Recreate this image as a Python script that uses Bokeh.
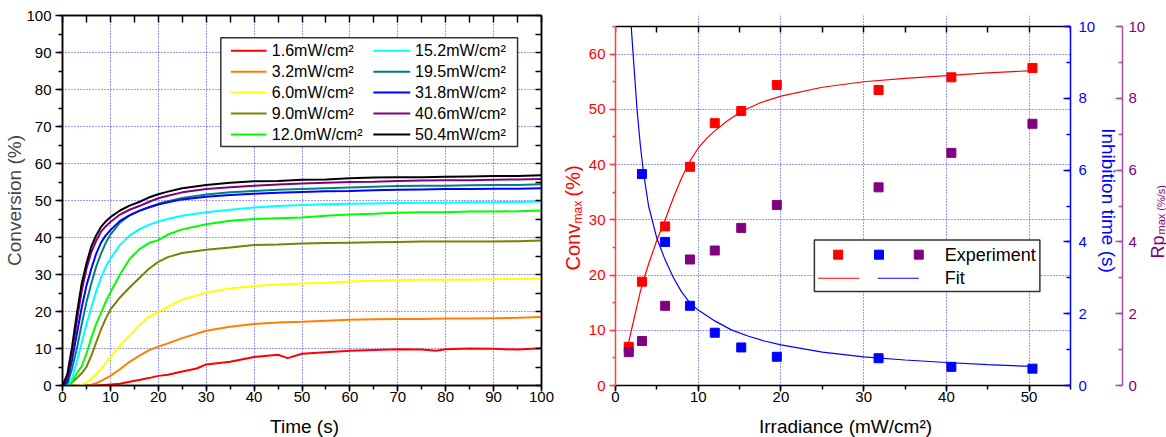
import math
from bokeh.plotting import figure
from bokeh.models import Range1d, LinearAxis, SingleIntervalTicker, FixedTicker, Label
from bokeh.layouts import row, column
from bokeh.embed import file_html
from bokeh.resources import INLINE

FONT = "Liberation Sans"

# ---------------- Left panel data: conversion vs time ----------------
TIME = [0, 1, 2, 3, 4, 5, 6, 7, 8, 9, 10, 12, 14, 16, 18, 20, 22, 25, 30, 35, 40,
        45, 50, 55, 60, 65, 70, 75, 80, 85, 90, 95, 100]
TIME_RED = [0, 5, 8, 10, 12, 14, 16, 18, 20, 22, 25, 28, 30, 35, 40, 45, 47, 50, 55,
            60, 65, 70, 75, 78, 80, 85, 90, 95, 100]
CONV_1_6 = [0, 0, 0.1, 0.3, 0.5, 1.0, 1.5, 2.0, 2.6, 2.9, 3.8, 4.6, 5.7, 6.4, 7.7, 8.3,
            7.4, 8.6, 9.0, 9.4, 9.6, 9.8, 9.7, 9.4, 9.8, 10.0, 9.9, 9.7, 10.1]
CONV_3_2 = [0, 0, 0, 0, 0, 0, 0.2, 0.6, 1.2, 1.9, 2.6, 4.4, 6.4, 8.0, 9.5, 10.5, 11.4,
            12.8, 14.8, 15.9, 16.6, 17.0, 17.2, 17.5, 17.8, 17.9, 18.0, 18.0, 18.1, 18.1,
            18.2, 18.3, 18.5]
CONV_6_0 = [0, 0, 0, 0, 0.2, 0.8, 1.8, 3.0, 4.5, 6.0, 7.6, 10.8, 13.5, 16.2, 18.5, 19.8,
            21.3, 23.2, 25.1, 26.2, 26.9, 27.3, 27.6, 27.8, 28.1, 28.3, 28.5, 28.6, 28.6,
            28.6, 28.7, 28.8, 28.9]
CONV_9_0 = [0, 0, 0.8, 2.0, 3.3, 5.0, 8.0, 11.5, 15.0, 18.0, 20.5, 23.8, 26.5, 29.0, 31.5,
            33.4, 34.7, 35.8, 36.7, 37.3, 38.0, 38.1, 38.4, 38.5, 38.6, 38.7, 38.8, 38.9,
            38.9, 38.9, 38.9, 39.0, 39.2]
CONV_12_0 = [0, 0, 1.0, 3.3, 5.2, 8.6, 12.8, 16.5, 19.5, 22.5, 25.2, 30.0, 34.2, 36.8,
             38.5, 39.3, 40.8, 42.2, 43.6, 44.5, 45.0, 45.2, 45.4, 45.9, 46.2, 46.4, 46.7,
             46.8, 46.8, 47.0, 47.0, 47.1, 47.3]
CONV_15_2 = [0, 0, 2.0, 6.5, 11.5, 16.5, 21.0, 25.3, 29.0, 32.0, 34.3, 38.0, 40.5, 42.2,
             43.4, 44.3, 45.0, 45.9, 46.8, 47.5, 48.1, 48.5, 48.8, 49.0, 49.1, 49.2, 49.3,
             49.4, 49.4, 49.5, 49.5, 49.6, 49.7]
CONV_19_5 = [0, 0.5, 4.5, 10.0, 16.5, 22.5, 27.5, 32.0, 35.5, 38.5, 40.8, 44.0, 46.0, 47.2,
             48.2, 49.1, 49.8, 50.7, 51.6, 52.2, 52.6, 52.9, 53.1, 53.3, 53.5, 53.7, 53.9,
             54.0, 54.0, 54.1, 54.2, 54.2, 54.4]
CONV_31_8 = [0, 1.0, 7.0, 14.0, 21.0, 27.0, 31.5, 35.5, 38.5, 40.5, 42.0, 44.5, 46.0, 47.2,
             48.1, 48.9, 49.5, 50.3, 51.0, 51.5, 51.8, 52.1, 52.3, 52.5, 52.6, 52.8, 52.9,
             53.0, 53.1, 53.1, 53.2, 53.2, 53.3]
CONV_40_6 = [0, 2.0, 9.0, 17.5, 25.5, 31.5, 36.0, 39.0, 41.5, 43.0, 44.2, 46.2, 47.5, 48.5,
             49.6, 50.6, 51.3, 52.2, 53.1, 53.6, 54.0, 54.3, 54.6, 54.8, 55.0, 55.1, 55.3,
             55.4, 55.5, 55.5, 55.6, 55.7, 55.8]
CONV_50_4 = [0, 3.0, 10.5, 19.5, 27.5, 33.0, 37.5, 40.5, 42.8, 44.3, 45.5, 47.3, 48.6, 49.6,
             50.8, 51.7, 52.4, 53.3, 54.2, 54.8, 55.2, 55.3, 55.6, 55.7, 56.0, 56.2, 56.3,
             56.3, 56.4, 56.5, 56.6, 56.6, 56.8]

SERIES_LABELS = ["1.6mW/cm²", "3.2mW/cm²", "6.0mW/cm²", "9.0mW/cm²", "12.0mW/cm²",
                 "15.2mW/cm²", "19.5mW/cm²", "31.8mW/cm²", "40.6mW/cm²", "50.4mW/cm²"]
SERIES_COLORS = ["#FF0000", "#FF8000", "#FFFF00", "#808000", "#00FF00",
                 "#00FFFF", "#008080", "#0000FF", "#800080", "#000000"]
SERIES_VALUES = [CONV_1_6, CONV_3_2, CONV_6_0, CONV_9_0, CONV_12_0,
                 CONV_15_2, CONV_19_5, CONV_31_8, CONV_40_6, CONV_50_4]

# ---------------- Right panel data ----------------
IRRADIANCE = [1.6, 3.2, 6.0, 9.0, 12.0, 15.2, 19.5, 31.8, 40.6, 50.4]
CONV_MAX = [7.0, 18.8, 28.8, 39.6, 47.5, 49.7, 54.4, 53.5, 55.8, 57.5]
IRR_INHIB = [3.2, 6.0, 9.0, 12.0, 15.2, 19.5, 31.8, 40.6, 50.4]
INHIB_TIME = [5.89, 4.0, 2.22, 1.47, 1.06, 0.80, 0.76, 0.52, 0.47]
RP_MAX = [0.93, 1.24, 2.22, 3.51, 3.76, 4.39, 5.03, 5.52, 6.48, 7.29]

FIT_CONV_X = [1.6, 2.0, 2.5, 3.0, 3.5, 4.0, 5.0, 6.0, 7.0, 8.0, 9.0, 10.0, 11.0, 12.0,
              13.5, 15.2, 17.5, 20.0, 25.0, 30.0, 35.0, 40.0, 45.0, 50.4]
FIT_CONV_Y = [7.9, 10.5, 13.8, 17.0, 19.6, 22.0, 26.3, 30.0, 34.0, 37.6, 40.6, 43.0,
              44.7, 46.1, 47.9, 49.6, 51.2, 52.4, 54.0, 55.0, 55.6, 56.1, 56.6, 57.0]
FIT_INHIB_X = [1.9, 2.2, 2.6, 3.0, 3.4, 4.0, 5.0, 6.0, 7.0, 8.0, 9.0, 10.0, 12.0, 14.0,
               16.0, 18.0, 20.0, 25.0, 30.0, 35.0, 40.0, 45.0, 50.4]
FIT_INHIB_Y = [10.0, 9.0, 7.7, 6.7, 5.9, 5.0, 4.1, 3.5, 3.0, 2.6, 2.3, 2.1, 1.8, 1.55,
               1.38, 1.24, 1.13, 0.93, 0.80, 0.71, 0.64, 0.58, 0.53]

# axis limits
CONV_AX_MAX = 65
SEC_AX_MAX = 10
IRR_AX_MAX = 55

GRID_COLOR = "#0000FF"
ROW_H = 409
BORDER_TOP, BORDER_BOTTOM = 15, 24
# the right panel's plotting area starts 11 px lower than the left one's
PAD_PX = 11
FRAME_PX = ROW_H - BORDER_TOP - BORDER_BOTTOM
RED_TOP = CONV_AX_MAX + PAD_PX * CONV_AX_MAX / (FRAME_PX - PAD_PX)
SEC_TOP = SEC_AX_MAX + PAD_PX * SEC_AX_MAX / (FRAME_PX - PAD_PX)


def style_axis(ax, color="black", tick_in=0, tick_out=0, minor_in=0, minor_out=0,
               label_color=None, standoff=4, size="15px"):
    ax.axis_line_color = color
    ax.axis_line_width = 1.5
    ax.major_tick_line_color = color
    ax.minor_tick_line_color = color
    ax.major_tick_line_width = 1.5
    ax.minor_tick_line_width = 1.5
    ax.major_tick_in = tick_in
    ax.major_tick_out = tick_out
    ax.minor_tick_in = minor_in
    ax.minor_tick_out = minor_out
    ax.major_label_text_font = FONT
    ax.major_label_text_color = label_color or color
    ax.major_label_text_font_size = size
    ax.major_label_standoff = standoff
    ax.axis_label_text_font = FONT
    ax.axis_label_text_font_style = "normal"


def inner_ticks(p, side, lo, hi, step, length, fixed=None):
    """Label-free tick marks on the frame edge, pointing inwards."""
    ticks = [v / 2 for v in range(2 * lo, 2 * hi + 1, step)]
    ax = LinearAxis(ticker=FixedTicker(ticks=[], minor_ticks=ticks))
    if fixed is not None:
        ax.fixed_location = fixed
    style_axis(ax, minor_in=length, standoff=0)
    p.add_layout(ax, side)
    return ax


def side_strip(w):
    """Narrow text-only panel whose y coordinate equals (ROW_H - page y)."""
    s = figure(width=w, height=ROW_H, x_range=Range1d(0, w),
               y_range=Range1d(BORDER_BOTTOM, ROW_H - BORDER_TOP),
               output_backend="svg", toolbar_location=None, x_axis_type=None,
               y_axis_type=None, min_border_left=0, min_border_right=0,
               min_border_top=BORDER_TOP, min_border_bottom=BORDER_BOTTOM)
    s.outline_line_color = None
    s.background_fill_color = "white"
    s.border_fill_color = "white"
    return s


def style_grid(p, xt, yt):
    for g in (p.xgrid[0], p.ygrid[0]):
        g.grid_line_color = GRID_COLOR
        g.grid_line_dash = "1 2"
        g.grid_line_width = 1
        g.grid_line_alpha = 0.8
    p.xgrid[0].ticker = xt
    p.ygrid[0].ticker = yt


# ======================= Left figure =======================
p1 = figure(width=563, height=ROW_H, x_range=Range1d(0, 100), y_range=Range1d(0, 100),
            output_backend="svg", toolbar_location=None,
            min_border_left=62, min_border_right=22, min_border_top=BORDER_TOP,
            min_border_bottom=BORDER_BOTTOM)
p1.outline_line_color = "black"
p1.outline_line_width = 1.5
p1.background_fill_color = "white"
p1.border_fill_color = "white"

xt1 = SingleIntervalTicker(interval=10, num_minor_ticks=2)
yt1 = SingleIntervalTicker(interval=10, num_minor_ticks=2)
p1.xaxis[0].ticker = xt1
p1.yaxis[0].ticker = yt1
style_axis(p1.xaxis[0], tick_out=6, minor_out=4, standoff=0)
style_axis(p1.yaxis[0], tick_out=7, minor_out=4, standoff=4)
p1.yaxis[0].axis_label = "Conversion (%)"
p1.yaxis[0].axis_label_text_font_size = "19px"
p1.yaxis[0].axis_label_standoff = -2
inner_ticks(p1, "above", 0, 100, 10, 7)
inner_ticks(p1, "right", 0, 100, 10, 6)
style_grid(p1, xt1, yt1)

for lab, col, vals in zip(SERIES_LABELS, SERIES_COLORS, SERIES_VALUES):
    xs = TIME_RED if vals is CONV_1_6 else TIME
    p1.line(xs, vals, line_color=col, line_width=2)

# legend (two columns) inside a white framed box
p1.quad(left=[33.05], right=[95.0], top=[93.97], bottom=[64.57], fill_color="white",
        line_color="#333333", line_width=1.5)
ROW_Y0, ROW_STEP = 90.5, 5.67
for i, (lab, col) in enumerate(zip(SERIES_LABELS, SERIES_COLORS)):
    c, r = divmod(i, 5)
    yy = ROW_Y0 - r * ROW_STEP
    x0, x1, xt = (35.15, 42.6, 43.7) if c == 0 else (64.9, 72.6, 73.6)
    p1.segment(x0=[x0], y0=[yy], x1=[x1], y1=[yy], line_color=col, line_width=2)
    p1.add_layout(Label(x=xt, y=yy, text=lab, text_font=FONT, text_font_size="16px",
                        text_baseline="middle", text_color="black"))

# ======================= Right figure =======================
p2 = figure(width=565, height=ROW_H, x_range=Range1d(0, IRR_AX_MAX),
            y_range=Range1d(0, RED_TOP), output_backend="svg", toolbar_location=None,
            min_border_left=32, min_border_right=76, min_border_top=BORDER_TOP,
            min_border_bottom=BORDER_BOTTOM)
p2.outline_line_color = None
p2.background_fill_color = "white"
p2.border_fill_color = "white"
p2.extra_y_ranges = {"inh": Range1d(0, SEC_TOP), "rp": Range1d(0, SEC_TOP)}

xt2 = SingleIntervalTicker(interval=10, num_minor_ticks=2)
yt2 = SingleIntervalTicker(interval=10, num_minor_ticks=2)
p2.xaxis[0].ticker = xt2
p2.yaxis[0].ticker = yt2
style_axis(p2.xaxis[0], tick_out=6, minor_out=4, standoff=0)
style_axis(p2.yaxis[0], color="#FF4040", label_color="#FF0000", tick_out=6, minor_out=3,
           standoff=4)
p2.yaxis[0].bounds = (0, CONV_AX_MAX)
inner_ticks(p2, "above", 0, IRR_AX_MAX, 10, 6, fixed=CONV_AX_MAX)

blue_ax = LinearAxis(y_range_name="inh", bounds=(0, SEC_AX_MAX),
                     ticker=SingleIntervalTicker(interval=2, num_minor_ticks=2))
style_axis(blue_ax, color="#0000FF", tick_in=7, minor_in=4, standoff=8)
blue_ax.axis_label = "Inhibition time (s)"
blue_ax.axis_label_text_color = "#0000FF"
blue_ax.axis_label_text_font_size = "19px"
blue_ax.axis_label_standoff = 0
p2.add_layout(blue_ax, "right")

purple_ax = LinearAxis(y_range_name="rp", bounds=(0, SEC_AX_MAX),
                       ticker=SingleIntervalTicker(interval=2, num_minor_ticks=2))
style_axis(purple_ax, color="#A050A0", label_color="#800080", tick_in=7, minor_in=4,
           standoff=6)
p2.add_layout(purple_ax, "right")
style_grid(p2, xt2, yt2)

# hide the grid above the top of the axes
p2.quad(left=[0], right=[IRR_AX_MAX], bottom=[CONV_AX_MAX], top=[RED_TOP],
        fill_color="white", line_color=None, level="underlay")

p2.line(FIT_CONV_X, FIT_CONV_Y, line_color="#FF0000", line_width=1.2)
p2.line(FIT_INHIB_X, FIT_INHIB_Y, line_color="#0000FF", line_width=1.2, y_range_name="inh")
p2.scatter(IRRADIANCE, CONV_MAX, marker="square", size=9, fill_color="#FF0000",
           line_color="#FF0000")
p2.scatter(IRR_INHIB, INHIB_TIME, marker="square", size=9, fill_color="#0000FF",
           line_color="#0000FF", y_range_name="inh")
p2.scatter(IRRADIANCE, RP_MAX, marker="square", size=9, fill_color="#800080",
           line_color="#800080", y_range_name="rp")

# legend box
p2.quad(left=[24.04], right=[51.3], top=[26.35], bottom=[17.0], fill_color="white",
        line_color="#333333", line_width=1.5)
for lx, lc in ((26.92, "#FF0000"), (31.85, "#0000FF"), (36.66, "#800080")):
    p2.scatter([lx], [23.69], marker="square", size=9, fill_color=lc, line_color=lc)
p2.segment(x0=[24.5], y0=[19.42], x1=[29.45], y1=[19.42], line_color="#FF0000", line_width=1.2)
p2.segment(x0=[31.7], y0=[19.42], x1=[36.66], y1=[19.42], line_color="#0000FF", line_width=1.2)
p2.add_layout(Label(x=39.8, y=23.6, text="Experiment", text_font=FONT, text_font_size="18px",
                    text_baseline="middle", text_color="black"))
p2.add_layout(Label(x=39.8, y=19.5, text="Fit", text_font=FONT, text_font_size="18px",
                    text_baseline="middle", text_color="black"))

# ======================= axis-title strips =======================
ang = math.pi / 2
sL = side_strip(20)
sL.add_layout(Label(x=9, y=139, text="Conv", angle=ang, text_font=FONT,
                    text_font_size="20px", text_baseline="middle", text_color="#FF0000"))
sL.add_layout(Label(x=14, y=186, text="max", angle=ang, text_font=FONT,
                    text_font_size="12px", text_baseline="middle", text_color="#FF0000"))
sL.add_layout(Label(x=9, y=213, text="(%)", angle=ang, text_font=FONT,
                    text_font_size="20px", text_baseline="middle", text_color="#FF0000"))

sR = side_strip(18)
sR.add_layout(Label(x=9, y=151, text="Rp", angle=ang, text_font=FONT,
                    text_font_size="18px", text_baseline="middle", text_color="#800080"))
sR.add_layout(Label(x=12.5, y=175, text="max (%/s)", angle=ang, text_font=FONT,
                    text_font_size="11px", text_baseline="middle", text_color="#800080"))

sB = figure(width=1166, height=28, x_range=Range1d(0, 1166), y_range=Range1d(0, 28),
            output_backend="svg", toolbar_location=None, x_axis_type=None,
            y_axis_type=None, min_border=0)
sB.outline_line_color = None
sB.background_fill_color = "white"
sB.border_fill_color = "white"
sB.add_layout(Label(x=304, y=11, text="Time (s)", text_font=FONT, text_font_size="19px",
                    text_align="center", text_baseline="alphabetic", text_color="black"))
sB.add_layout(Label(x=845, y=11, text="Irradiance (mW/cm²)", text_font=FONT,
                    text_font_size="19px", text_align="center", text_baseline="alphabetic",
                    text_color="black"))

layout = column(row(p1, sL, p2, sR), sB)
open("out.html", "w").write(file_html(layout, INLINE))
